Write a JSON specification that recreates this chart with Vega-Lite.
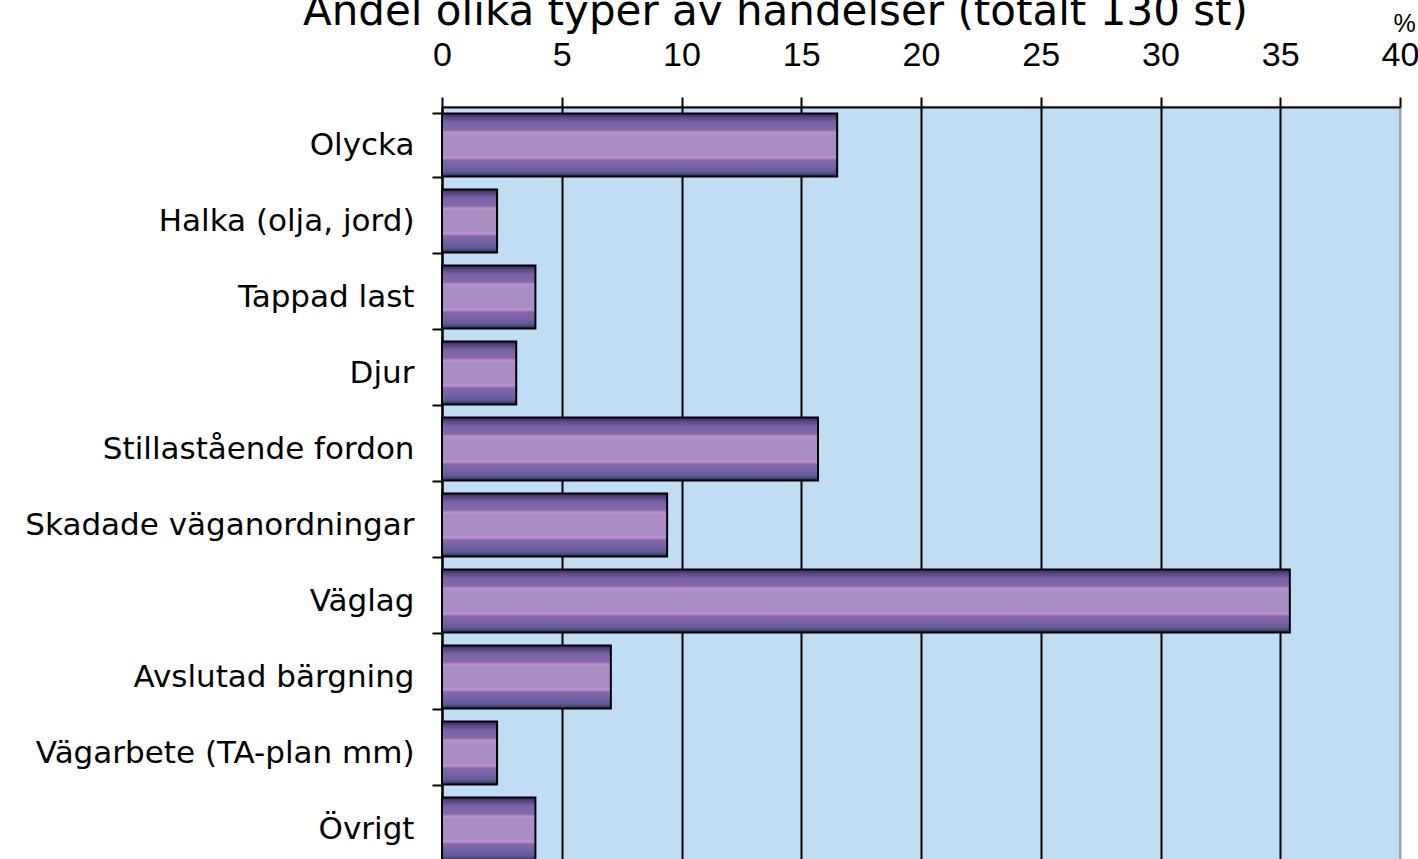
{
  "$schema": "https://vega.github.io/schema/vega-lite/v6.json",
  "autosize": "none",
  "padding": {"left": 442, "top": 107, "right": 18, "bottom": 0},
  "width": 958,
  "height": 760,
  "background": "white",
  "title": {
    "text": "Andel olika typer av händelser (totalt 130 st)",
    "font": "DejaVu Sans",
    "fontSize": 42,
    "fontWeight": "normal",
    "color": "black",
    "anchor": "start",
    "frame": "group",
    "dx": -139,
    "dy": 56,
    "baseline": "alphabetic",
    "offset": 0
  },
  "data": {
    "values": [
      {"typ": "Olycka", "andel": 16.5},
      {"typ": "Halka (olja, jord)", "andel": 2.3},
      {"typ": "Tappad last", "andel": 3.9},
      {"typ": "Djur", "andel": 3.1},
      {"typ": "Stillastående fordon", "andel": 15.7},
      {"typ": "Skadade väganordningar", "andel": 9.4},
      {"typ": "Väglag", "andel": 35.4},
      {"typ": "Avslutad bärgning", "andel": 7.05},
      {"typ": "Vägarbete (TA-plan mm)", "andel": 2.3},
      {"typ": "Övrigt", "andel": 3.9}
    ]
  },
  "mark": {
    "type": "bar",
    "stroke": "black",
    "strokeWidth": 2,
    "color": {
      "gradient": "linear",
      "x1": 0, "y1": 0, "x2": 0, "y2": 1,
      "stops": [
        {"offset": 0, "color": "#3a2a58"},
        {"offset": 0.07, "color": "#584a86"},
        {"offset": 0.14, "color": "#7a62a6"},
        {"offset": 0.26, "color": "#8468aa"},
        {"offset": 0.3, "color": "#c092c8"},
        {"offset": 0.34, "color": "#aa8dc2"},
        {"offset": 0.66, "color": "#aa8dc2"},
        {"offset": 0.7, "color": "#c092c8"},
        {"offset": 0.74, "color": "#8468aa"},
        {"offset": 0.86, "color": "#7460a4"},
        {"offset": 0.93, "color": "#585a92"},
        {"offset": 1, "color": "#3a2a58"}
      ]
    }
  },
  "encoding": {
    "y": {
      "field": "typ",
      "type": "nominal",
      "sort": null,
      "scale": {"paddingInner": 0.17, "paddingOuter": 0.085},
      "axis": {
        "title": null,
        "orient": "left",
        "tickBand": "extent",
        "domainColor": "black",
        "domainWidth": 2,
        "tickColor": "black",
        "tickWidth": 2,
        "tickSize": 10,
        "labelPadding": 18,
        "labelFont": "DejaVu Sans",
        "labelFontSize": 31,
        "labelColor": "black",
        "labelLimit": 600
      }
    },
    "x": {
      "field": "andel",
      "type": "quantitative",
      "scale": {"domain": [0, 40], "nice": false},
      "axis": {
        "orient": "top",
        "values": [0, 5, 10, 15, 20, 25, 30, 35, 40],
        "title": "%",
        "titleFont": "Liberation Sans",
        "titleFontSize": 25,
        "titleFontWeight": "normal",
        "titleColor": "black",
        "titleX": 962,
        "titleY": -76,
        "titleAlign": "center",
        "titleBaseline": "alphabetic",
        "domainColor": "black",
        "domainWidth": 2,
        "tickColor": "black",
        "tickWidth": 2,
        "tickSize": 10,
        "labelPadding": 25,
        "labelFont": "Liberation Sans",
        "labelFontSize": 34,
        "labelColor": "black",
        "labelFlush": false,
        "labelOverlap": false,
        "grid": true,
        "gridColor": {"condition": {"test": "datum.value == 40", "value": "#a0a0a0"}, "value": "black"},
        "gridWidth": 2,
        "gridOpacity": 1
      }
    }
  },
  "config": {
    "view": {"fill": "#c0ddf4", "stroke": "#a0a0a0", "strokeWidth": 2}
  }
}
